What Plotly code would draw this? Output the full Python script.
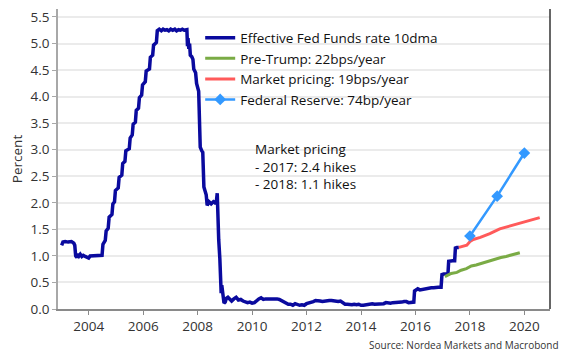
import plotly.graph_objects as go

# ---------------- data ----------------
effr_dates = [
    "2003-01-03", "2003-01-20", "2003-02-20", "2003-04-01", "2003-05-15", "2003-06-15", "2003-06-28",
    "2003-07-10", "2003-07-25", "2003-08-10", "2003-08-25", "2003-09-10", "2003-10-01", "2003-10-20",
    "2003-11-15", "2003-12-10", "2003-12-31", "2004-01-20", "2004-03-01", "2004-04-15", "2004-06-01",
    "2004-06-28", "2004-07-10", "2004-07-28", "2004-08-10", "2004-08-22", "2004-09-18", "2004-10-01",
    "2004-11-08", "2004-11-20", "2004-12-12", "2004-12-24", "2005-01-31", "2005-02-12", "2005-03-20",
    "2005-04-01", "2005-05-01", "2005-05-13", "2005-06-28", "2005-07-10", "2005-08-07", "2005-08-19",
    "2005-09-18", "2005-09-30", "2005-10-30", "2005-11-11", "2005-12-11", "2005-12-23", "2006-01-29",
    "2006-02-10", "2006-03-26", "2006-04-07", "2006-05-08", "2006-05-20", "2006-06-27", "2006-07-09",
    "2006-08-05", "2006-09-01", "2006-09-25", "2006-10-20", "2006-11-15", "2006-12-10", "2007-01-05",
    "2007-02-01", "2007-03-01", "2007-03-25", "2007-04-20", "2007-05-15", "2007-06-10", "2007-07-05",
    "2007-07-30", "2007-08-10", "2007-08-18", "2007-08-25", "2007-09-05", "2007-09-15", "2007-09-25",
    "2007-10-15", "2007-10-30", "2007-11-10", "2007-12-05", "2007-12-18", "2008-01-15", "2008-01-25",
    "2008-02-05", "2008-02-25", "2008-03-10", "2008-03-25", "2008-04-10", "2008-04-25", "2008-05-08",
    "2008-06-01", "2008-07-01", "2008-08-01", "2008-08-25", "2008-09-05", "2008-09-20", "2008-09-28",
    "2008-10-10", "2008-10-25", "2008-11-05", "2008-11-12", "2008-11-20", "2008-12-05", "2008-12-20",
    "2009-01-05", "2009-01-20", "2009-02-10", "2009-03-10", "2009-04-01", "2009-05-01", "2009-06-01",
    "2009-07-01", "2009-08-01", "2009-09-01", "2009-10-01", "2009-11-01", "2009-12-01", "2010-01-01",
    "2010-02-01", "2010-03-01", "2010-04-01", "2010-05-01", "2010-06-01", "2010-07-01", "2010-08-01",
    "2010-09-01", "2010-10-01", "2010-11-01", "2010-12-01", "2011-01-01", "2011-02-01", "2011-03-01",
    "2011-04-01", "2011-05-01", "2011-06-01", "2011-07-01", "2011-08-01", "2011-09-01", "2011-10-01",
    "2011-11-01", "2011-12-01", "2012-01-01", "2012-02-01", "2012-03-01", "2012-04-01", "2012-05-01",
    "2012-06-01", "2012-07-01", "2012-08-01", "2012-09-01", "2012-10-01", "2012-11-01", "2012-12-01",
    "2013-01-01", "2013-02-01", "2013-03-01", "2013-04-01", "2013-05-01", "2013-06-01", "2013-07-01",
    "2013-08-01", "2013-09-01", "2013-10-01", "2013-11-01", "2013-12-01", "2014-01-01", "2014-02-01",
    "2014-03-01", "2014-04-01", "2014-05-01", "2014-06-01", "2014-07-01", "2014-08-01", "2014-09-01",
    "2014-10-01", "2014-11-01", "2014-12-01", "2015-01-01", "2015-02-01", "2015-03-01", "2015-04-01",
    "2015-05-01", "2015-06-01", "2015-07-01", "2015-08-01", "2015-09-01", "2015-10-01", "2015-11-01",
    "2015-12-10", "2015-12-20", "2016-01-05", "2016-02-01", "2016-03-01", "2016-04-01", "2016-05-01",
    "2016-06-01", "2016-07-01", "2016-08-01", "2016-09-01", "2016-10-01", "2016-11-01", "2016-12-10",
    "2016-12-22", "2017-01-15", "2017-02-15", "2017-03-12", "2017-03-22", "2017-04-15", "2017-05-15",
    "2017-06-10", "2017-06-20", "2017-07-10", "2017-08-05",
]
effr_values = [
    1.20, 1.26, 1.27, 1.26, 1.27, 1.24, 1.20,
    1.00, 0.97, 1.04, 1.00, 1.03, 0.99, 1.01,
    0.99, 0.98, 0.96, 1.00, 1.00, 1.00, 1.00,
    1.01, 1.22, 1.27, 1.29, 1.47, 1.52, 1.73,
    1.78, 1.98, 2.02, 2.23, 2.28, 2.48, 2.52,
    2.74, 2.78, 2.98, 3.02, 3.22, 3.28, 3.48,
    3.52, 3.74, 3.78, 3.98, 4.03, 4.22, 4.28,
    4.48, 4.52, 4.74, 4.78, 4.97, 5.02, 5.24,
    5.27, 5.24, 5.27, 5.25, 5.26, 5.24, 5.27,
    5.25, 5.27, 5.24, 5.26, 5.25, 5.27, 5.25,
    5.27, 5.26, 4.95, 5.10, 4.90, 5.00, 4.78,
    4.75, 4.70, 4.52, 4.45, 4.25, 4.10, 3.70,
    3.05, 2.98, 2.95, 2.30, 2.22, 2.15, 1.95,
    2.02, 1.98, 2.02, 2.00, 1.98, 2.18, 1.60,
    1.30, 0.95, 0.55, 0.30, 0.45, 0.20, 0.11,
    0.13, 0.20, 0.22, 0.18, 0.15, 0.19, 0.22,
    0.17, 0.18, 0.15, 0.13, 0.12, 0.13, 0.11,
    0.12, 0.16, 0.19, 0.21, 0.18, 0.19, 0.19,
    0.20, 0.19, 0.19, 0.19, 0.18, 0.16, 0.14,
    0.11, 0.09, 0.09, 0.07, 0.10, 0.08, 0.07,
    0.08, 0.07, 0.10, 0.11, 0.13, 0.14, 0.16,
    0.16, 0.15, 0.14, 0.15, 0.16, 0.16, 0.16,
    0.15, 0.15, 0.14, 0.15, 0.11, 0.09, 0.09,
    0.08, 0.08, 0.09, 0.08, 0.09, 0.07, 0.07,
    0.08, 0.09, 0.09, 0.10, 0.09, 0.09, 0.09,
    0.09, 0.10, 0.12, 0.11, 0.11, 0.12, 0.12,
    0.12, 0.13, 0.13, 0.14, 0.14, 0.12, 0.12,
    0.13, 0.34, 0.36, 0.38, 0.36, 0.37, 0.37,
    0.38, 0.40, 0.40, 0.40, 0.41, 0.41, 0.41,
    0.65, 0.66, 0.66, 0.66, 0.90, 0.91, 0.91,
    0.91, 1.15, 1.16, 1.16,
]

pretrump_dates = ["2017-01-30", "2017-04-25", "2017-07-10", "2017-09-05", "2017-11-15", "2018-01-20",
                  "2018-03-25", "2018-06-01", "2018-08-10", "2018-10-10", "2018-12-20", "2019-02-20",
                  "2019-05-01", "2019-07-01", "2019-09-01", "2019-11-01"]
pretrump_values = [0.61, 0.67, 0.69, 0.73, 0.76, 0.81,
                   0.83, 0.86, 0.88, 0.91, 0.94, 0.97,
                   0.99, 1.01, 1.04, 1.06]

market_dates = ["2017-08-05", "2017-09-15", "2017-11-20", "2018-01-01", "2018-02-15", "2018-05-20",
                "2018-09-25", "2019-02-05", "2019-06-15", "2019-10-30", "2020-03-15", "2020-07-25"]
market_values = [1.16, 1.17, 1.20, 1.27, 1.31, 1.35,
                 1.42, 1.51, 1.56, 1.61, 1.67, 1.72]

fed_dates = ["2018-01-01", "2019-01-01", "2020-01-01"]
fed_values = [1.375, 2.125, 2.9375]

tick_years = [2004, 2006, 2008, 2010, 2012, 2014, 2016, 2018, 2020]
y_ticks = [0.0, 0.5, 1.0, 1.5, 2.0, 2.5, 3.0, 3.5, 4.0, 4.5, 5.0, 5.5]

names = ["Effective Fed Funds rate 10dma", "Pre-Trump: 22bps/year",
         "Market pricing: 19bps/year", "Federal Reserve: 74bp/year"]
note_lines = ["Market pricing", "- 2017: 2.4 hikes", "- 2018: 1.1 hikes"]
source_text = "Source: Nordea Markets and Macrobond"

FONT = "Open Sans, Noto Sans, sans-serif"

fig = go.Figure()
fig.add_trace(go.Scatter(x=effr_dates, y=effr_values, mode="lines", name=names[0],
                         line=dict(color="#0a0a9e", width=3.5)))
fig.add_trace(go.Scatter(x=pretrump_dates, y=pretrump_values, mode="lines", name=names[1],
                         line=dict(color="#7aab45", width=3)))
fig.add_trace(go.Scatter(x=market_dates, y=market_values, mode="lines", name=names[2],
                         line=dict(color="#ff5a5a", width=3)))
fig.add_trace(go.Scatter(x=fed_dates, y=fed_values, mode="lines+markers", name=names[3],
                         line=dict(color="#3399ff", width=2.5),
                         marker=dict(symbol="diamond", size=9, color="#3399ff")))

fig.update_layout(
    width=562, height=352,
    margin=dict(l=44, r=20, t=0, b=51),
    paper_bgcolor="white", plot_bgcolor="white",
    font=dict(family=FONT, size=13.5, color="#222"),
    showlegend=True,
    legend=dict(x=0.289, y=0.955, xanchor="left", yanchor="top",
                bgcolor="rgba(0,0,0,0)", font=dict(size=13.5, color="#111"),
                itemwidth=30, tracegroupgap=0),
    xaxis=dict(type="date", range=["2002-11-15", "2020-12-10"],
               tickvals=[f"{y}-01-01" for y in tick_years],
               ticktext=[str(y) for y in tick_years],
               showgrid=False, showline=True, linecolor="#8a8a8a", linewidth=1.5,
               ticks="outside", ticklen=4, tickcolor="#8a8a8a",
               tickfont=dict(size=13.5, color="#333")),
    yaxis=dict(range=[0, 5.65], tickvals=y_ticks, tickformat=".1f",
               ticklabeloverflow="allow",
               showgrid=True, gridcolor="#ebebeb", gridwidth=2, zeroline=False,
               showline=True, linecolor="#a8a8a8", linewidth=1.5,
               ticks="outside", ticklen=4, tickcolor="#a8a8a8",
               tickfont=dict(size=13.5, color="#333"),
               title=dict(text="Percent", font=dict(size=13.5, color="#333"), standoff=13)),
    shapes=[dict(type="line", xref="paper", yref="paper", x0=1, x1=1, y0=0, y1=1,
                 line=dict(color="#333", width=1.5))],
    annotations=[
        dict(text="<br>".join(note_lines), xref="paper", yref="paper",
             x=0.396, y=0.5714, xanchor="left", yanchor="top", align="left",
             showarrow=False, font=dict(size=13.5, color="#111")),
        dict(text=source_text, xref="paper", yref="paper", x=1.022, y=-0.1196,
             xanchor="right", yanchor="middle", showarrow=False,
             font=dict(size=10, color="#333")),
    ],
)

fig.write_html("out.html")
